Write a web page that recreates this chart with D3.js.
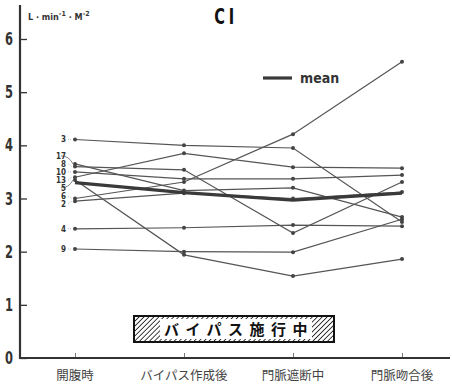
<!DOCTYPE html>
<html><head><meta charset="utf-8">
<script src="https://cdn.jsdelivr.net/npm/d3@7"></script>
<style>
body{margin:0;background:#fff;}
svg{display:block;}
.num{font-family:"Liberation Sans Narrow","DejaVu Sans Condensed","Roboto",sans-serif;font-weight:bold;}
</style></head>
<body>
<svg id="chart" width="452" height="384"></svg>
<script>
const categories = ["開腹時", "バイパス作成後", "門脈遮断中", "門脈吻合後"];
const caseIds = ["3", "17", "8", "10", "13", "5", "6", "2", "4", "9"];
const case3  = [4.11, 4.00, 3.95, 2.56];
const case17 = [3.65, 3.15, 3.20, 2.65];
const case8  = [3.60, 3.54, 2.35, 3.31];
const case10 = [3.50, 3.37, 3.37, 3.44];
const case13 = [3.40, 3.85, 3.59, 3.57];
const case5  = [3.35, 1.94, 1.54, 1.86];
const case6  = [3.00, 3.31, 4.21, 5.57];
const case2  = [2.95, 3.10, 3.00, 3.12];
const case4  = [2.43, 2.45, 2.50, 2.48];
const case9  = [2.05, 2.00, 1.99, 2.61];
const meanValues = [3.30, 3.11, 2.97, 3.10];
const yTicks = [0, 1, 2, 3, 4, 5, 6];
const title = "CI";
const legendLabel = "mean";
const bypassLabel = "バイパス施行中";

const caseValues = [case3, case17, case8, case10, case13, case5, case6, case2, case4, case9];
const cases = caseIds.map((id, i) => ({id, values: caseValues[i]}));

const svg = d3.select("#chart");
const ink = "#333";
const lineInk = "#555";

const x = d3.scalePoint().domain(categories).range([75, 402]);
const y = d3.scaleLinear().domain([0, 6]).range([358, 39]);

// hatch pattern
const defs = svg.append("defs");
const pat = defs.append("pattern").attr("id", "hatch").attr("patternUnits", "userSpaceOnUse")
  .attr("width", 3.5).attr("height", 3.5).attr("patternTransform", "rotate(45)");
pat.append("rect").attr("width", 3.5).attr("height", 3.5).attr("fill", "#fff");
pat.append("line").attr("x1", 0).attr("y1", 0).attr("x2", 0).attr("y2", 3.5)
  .attr("stroke", "#111").attr("stroke-width", 1.6);

// Y axis
const yAxis = d3.axisRight(y).tickValues(yTicks).tickSize(7).tickFormat("");
const gy = svg.append("g").attr("transform", "translate(20,0)").call(yAxis);
gy.select(".domain").remove();
gy.selectAll(".tick line").attr("stroke", ink).attr("stroke-width", 1.3);
svg.append("line").attr("x1", 20).attr("x2", 20).attr("y1", 5).attr("y2", y(0) + 1)
  .attr("stroke", ink).attr("stroke-width", 2.2);
svg.selectAll(".ylab").data(yTicks).join("text").attr("class", "num")
  .attr("text-anchor", "middle")
  .attr("transform", d => `translate(9,${y(d) + 6}) scale(0.85,1.15)`)
  .attr("font-size", 15).attr("fill", ink).text(d => d);

// X axis
const xAxis = d3.axisTop(x).tickSize(5).tickFormat("");
const gx = svg.append("g").attr("transform", `translate(0,${y(0)})`).call(xAxis);
gx.select(".domain").remove();
gx.selectAll(".tick line").attr("stroke", "#777").attr("stroke-width", 1);
svg.append("line").attr("x1", 19).attr("x2", 450).attr("y1", y(0)).attr("y2", y(0))
  .attr("stroke", ink).attr("stroke-width", 2.2);
svg.selectAll(".xlab").data(categories).join("text")
  .attr("x", d => x(d)).attr("y", 380).attr("text-anchor", "middle")
  .attr("font-family", "'Noto Sans CJK JP',sans-serif").attr("font-size", 12.5)
  .attr("fill", "#444").text(d => d);

// unit label & title
const unit = svg.append("text").attr("class", "num").attr("x", 28).attr("y", 20)
  .attr("font-size", 9).attr("fill", ink);
unit.append("tspan").text("L · min");
unit.append("tspan").attr("dy", -4).attr("font-size", 7).text("-1");
unit.append("tspan").attr("dy", 4).text(" · M");
unit.append("tspan").attr("dy", -4).attr("font-size", 7).text("-2");
svg.append("text").attr("class", "num").attr("text-anchor", "middle")
  .attr("transform", "translate(226,24) scale(0.9,1.15)")
  .attr("font-size", 18).attr("fill", "#111").attr("letter-spacing", 4).text(title);

// lines
const line = d3.line().x((d, i) => x(categories[i])).y(d => y(d));
svg.append("g").selectAll("path").data(cases).join("path")
  .attr("d", d => line(d.values)).attr("fill", "none")
  .attr("stroke", lineInk).attr("stroke-width", 1.2);
svg.append("g").selectAll("g").data(cases).join("g")
  .selectAll("circle").data(d => d.values).join("circle")
  .attr("cx", (d, i) => x(categories[i])).attr("cy", d => y(d)).attr("r", 2)
  .attr("fill", "#444");
svg.append("path").attr("d", line(meanValues)).attr("fill", "none")
  .attr("stroke", "#3a3a3a").attr("stroke-width", 3.2);

// case labels with simple spacing
const labs = cases.map(c => ({id: c.id, py: y(c.values[0]), ly: y(c.values[0])}))
  .sort((a, b) => a.py - b.py);
for (let it = 0; it < 60; it++) {
  for (let i = 1; i < labs.length; i++) {
    const gap = labs[i].ly - labs[i - 1].ly;
    if (gap < 8) {
      const m = (8 - gap) / 2;
      labs[i].ly += m; labs[i - 1].ly -= m;
    }
  }
}
const x0 = x(categories[0]);
labs.forEach(l => {
  if (Math.abs(l.ly - l.py) > 4) {
    svg.append("path")
      .attr("d", `M${x0 - 14},${l.ly} Q${x0 - 6},${l.ly} ${x0 - 2},${l.py}`)
      .attr("fill", "none").attr("stroke", "#666").attr("stroke-width", 0.8);
  }
  svg.append("text").attr("class", "num").attr("x", x0 - 9).attr("y", l.ly + 3)
    .attr("text-anchor", "end").attr("font-size", 8).attr("fill", ink).text(l.id);
  if (Math.abs(l.ly - l.py) <= 4) {
    svg.append("line").attr("x1", x0 - 7).attr("x2", x0 - 3).attr("y1", l.ly).attr("y2", l.py)
      .attr("stroke", "#999").attr("stroke-width", 0.6).attr("stroke-dasharray", "1,1");
  }
});

// legend
svg.append("line").attr("x1", 263).attr("x2", 292).attr("y1", 78).attr("y2", 78)
  .attr("stroke", "#3a3a3a").attr("stroke-width", 3.2);
svg.append("text").attr("class", "num").attr("x", 300).attr("y", 83)
  .attr("font-size", 14).attr("fill", ink).text(legendLabel);

// bypass box
svg.append("rect").attr("x", 134).attr("y", 316).attr("width", 200).attr("height", 26)
  .attr("fill", "url(#hatch)").attr("stroke", "#111").attr("stroke-width", 2);
svg.append("rect").attr("x", 160).attr("y", 319).attr("width", 152).attr("height", 20).attr("fill", "#fff");
svg.append("text").attr("x", 239).attr("y", 335).attr("text-anchor", "middle")
  .attr("font-family", "'Noto Sans CJK JP',sans-serif").attr("font-weight", "bold")
  .attr("font-size", 15).attr("letter-spacing", 6.5).attr("fill", "#111").text(bypassLabel);
</script>
</body></html>
